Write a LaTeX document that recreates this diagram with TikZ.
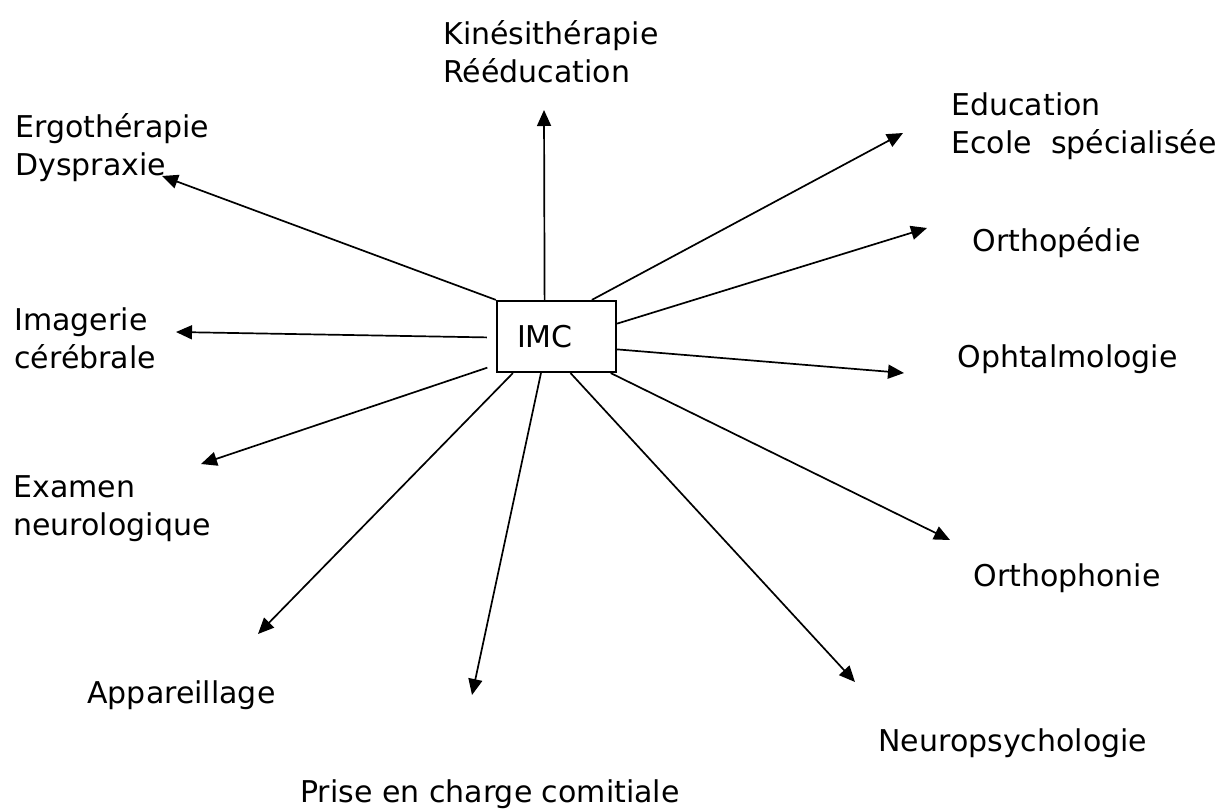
\documentclass[tikz,border=0pt]{standalone}
\usepackage{fontspec}
\setmainfont{DejaVu Sans}
\usetikzlibrary{arrows.meta}

\begin{document}
\begin{tikzpicture}[
    x=0.5pt,y=-0.5pt,
    lbl/.style={inner sep=0pt,align=left,anchor=base west,font=\fontsize{15}{19}\selectfont},
    imcbox/.style={draw,line width=1.1pt,text width=39.5pt,inner xsep=10pt,inner ysep=0pt,minimum height=35.5pt,align=left,font=\fontsize{15}{19}\selectfont},
    arr/.style={-{Triangle[length=8pt,width=7pt]},line width=0.85pt}
  ]
    \useasboundingbox (0,0) rectangle (1220,809);
    \node[imcbox] (imc) at (556.5,336.5) {IMC};
    % labels round the box (base = last line)
    \node[lbl] (kine) at (443,82) {Kinésithérapie\\Rééducation};
    \node[lbl] (educ) at (951,153) {Education\\Ecole\ \ spécialisée};
    \node[lbl] (orthop) at (972,251) {Orthopédie};
    \node[lbl] (ophta) at (957,367) {Ophtalmologie};
    \node[lbl] (orthoph) at (973,586) {Orthophonie};
    \node[lbl] (neuro) at (878,751) {Neuropsychologie};
    \node[lbl] (prise) at (300,802) {Prise en charge comitiale};
    \node[lbl] (appa) at (87,703) {Appareillage};
    \node[lbl] (exam) at (13,535) {Examen\\neurologique};
    \node[lbl] (imag) at (14,368) {Imagerie\\cérébrale};
    \node[lbl] (ergo) at (15,175) {Ergothérapie\\Dyspraxie};
    % arrow tips
    \coordinate (kine-t) at (544,110);
    \coordinate (educ-t) at (903,133);
    \coordinate (orthop-t) at (927,228);
    \coordinate (ophta-t) at (904,373);
    \coordinate (orthoph-t) at (950,540);
    \coordinate (neuro-t) at (855,682);
    \coordinate (prise-t) at (472,695);
    \coordinate (appa-t) at (258,634);
    \coordinate (exam-t) at (201,464);
    \coordinate (imag-t) at (176,332);
    \coordinate (ergo-t) at (162,176);
    \draw[arr] (imc.108.9)--(kine-t); \draw[arr] (imc.46.5)--(educ-t); \draw[arr] (imc.12.4)--(orthop-t);
    \draw[arr] (imc.-12.4)--(ophta-t); \draw[arr] (imc.-34.5)--(orthoph-t); \draw[arr] (imc.-69.7)--(neuro-t);
    \draw[arr] (imc.-113)--(prise-t); \draw[arr] (imc.-140.6)--(appa-t);
    \draw[arr,shorten <=4.5pt] (imc.-155.3)--(exam-t); \draw[arr,shorten <=4.5pt] (imc.181.2)--(imag-t);
    \draw[arr] (imc.north west)--(ergo-t);
  \end{tikzpicture}
\end{document}
